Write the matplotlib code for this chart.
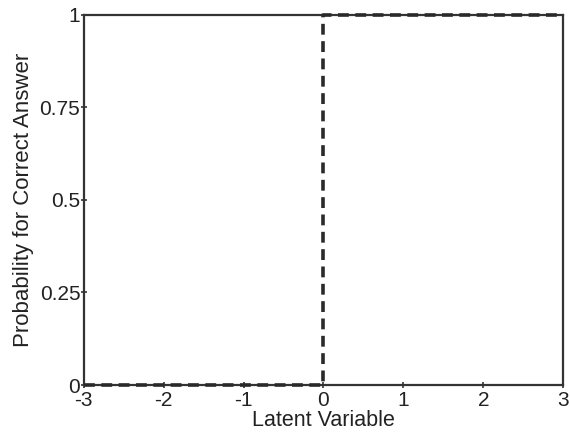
import matplotlib
matplotlib.use("Agg")
import matplotlib.pyplot as plt

# Data: deterministic step item characteristic curve
x_vals = [-3, 0, 0, 3]
y_vals = [0, 0, 1, 1]
x_ticks = [-3, -2, -1, 0, 1, 2, 3]
x_tick_labels = ["-3", "-2", "-1", "0", "1", "2", "3"]
y_ticks = [0, 0.25, 0.5, 0.75, 1]
y_tick_labels = ["0", "0.25", "0.5", "0.75", "1"]

plt.rcParams['font.family'] = ['Liberation Sans', 'DejaVu Sans']

fig = plt.figure(figsize=(5.7, 4.38), dpi=100)
ax = fig.add_axes([0.147, 0.121, 0.841, 0.845])

ax.plot(x_vals, y_vals, color="#2a2a2a", lw=2.6, linestyle=(0, (3, 1.8)), clip_on=False, zorder=3)

ax.set_xlim(-3, 3)
ax.set_ylim(0, 1)
ax.set_xticks(x_ticks)
ax.set_xticklabels(x_tick_labels)
ax.set_yticks(y_ticks)
ax.set_yticklabels(y_tick_labels)
ax.tick_params(direction="inout", length=5, width=1.2, color="#333333", labelsize=15, labelcolor="#222222")
ax.tick_params(axis="x", pad=1.5)
ax.tick_params(axis="y", pad=0)
for s in ax.spines.values():
    s.set_linewidth(1.6)
    s.set_color("#333333")

ax.set_xlabel("Latent Variable", fontsize=15.5, labelpad=0, color="#222222")
ax.set_ylabel("Probability for Correct Answer", fontsize=16, labelpad=4, color="#222222")

fig.savefig("out.png", dpi=100)
